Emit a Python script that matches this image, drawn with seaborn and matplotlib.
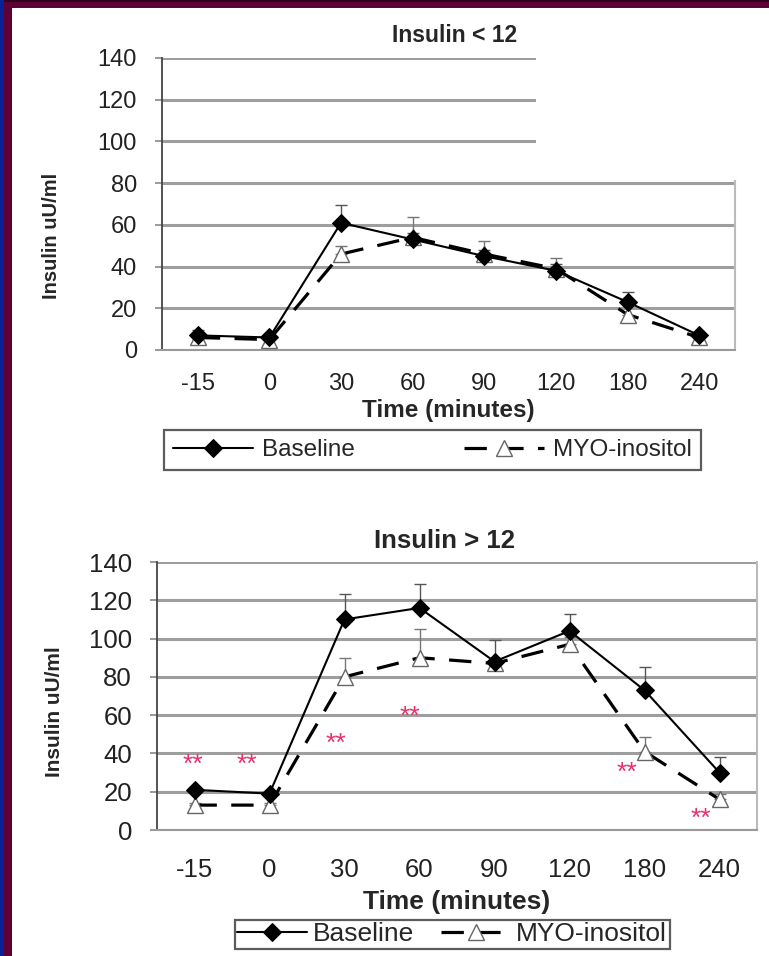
import numpy as np
import pandas as pd
import matplotlib
matplotlib.use("Agg")
import matplotlib.pyplot as plt
from matplotlib.patches import Rectangle
import seaborn as sns

# time points (categorical axis)
times = ["-15", "0", "30", "60", "90", "120", "180", "240"]

# Insulin < 12
low_baseline = [7, 6, 61, 53, 45, 38, 23, 7]
low_baseline_err = [2.5, 1, 8.5, 3, 3, 3, 5, 1.5]
low_myo = [6, 5, 46, 54, 46, 39, 17, 6]
low_myo_err = [1.5, 1.5, 4, 10, 6.5, 5, 6, 2]

# Insulin > 12
high_baseline = [21, 19, 110, 116, 88, 104, 73, 30]
high_baseline_err = [1, 1, 13.5, 12.5, 11, 9, 12, 8]
high_myo = [13, 13, 80, 90, 87, 97, 41, 16]
high_myo_err = [1, 1, 10, 15, 3, 4, 7.5, 3]

# significance marks ("**") in the > 12 panel
star_times = ["-15", "0", "30", "60", "180", "240"]
star_y = [34, 34, 45, 59, 30, 6]
star_dx = [-0.02, -0.3, -0.11, -0.13, -0.23, -0.25]

sns.set_style("white")
plt.rcParams["font.family"] = ["Liberation Sans", "DejaVu Sans"]

W, H = 769, 956
fig = plt.figure(figsize=(W / 100, H / 100), dpi=100)


def frac(x0, y0, x1, y1):
    return [x0 / W, 1 - y1 / H, (x1 - x0) / W, (y1 - y0) / H]


def draw_panel(ax, base, base_err, myo, myo_err, fs):
    pos = np.arange(len(times))
    df = pd.DataFrame({"pos": np.concatenate([pos, pos]),
                       "value": base + myo,
                       "group": ["Baseline"] * len(times) + ["MYO-inositol"] * len(times)})
    for y in range(0, 141, 20):
        ax.axhline(y, color="#9e9e9e", lw=2.2, zorder=0)
    ax.errorbar(pos, base, yerr=[np.zeros(len(times)), base_err], fmt="none",
                ecolor="#555555", elinewidth=1.0, capsize=4, zorder=2)
    ax.errorbar(pos, myo, yerr=[np.zeros(len(times)), myo_err], fmt="none",
                ecolor="#777777", elinewidth=1.0, capsize=4, zorder=2)
    sns.lineplot(data=df[df.group == "Baseline"], x="pos", y="value", ax=ax,
                 color="black", lw=1.5, marker="D", markersize=9,
                 markerfacecolor="black", markeredgecolor="black",
                 label="Baseline", zorder=4)
    sns.lineplot(data=df[df.group == "MYO-inositol"], x="pos", y="value", ax=ax,
                 color="black", lw=2.3, dashes=(7, 4.5), marker="^", markersize=12,
                 markerfacecolor="white", markeredgecolor="#666666",
                 markeredgewidth=1.0, label="MYO-inositol", zorder=3)
    ax.set_xlim(-0.5, len(times) - 0.5)
    ax.set_ylim(0, 140)
    ax.set_yticks(range(0, 141, 20))
    ax.set_xticks(pos)
    ax.set_xticklabels(times)
    ax.set_xticks(np.arange(-0.5, len(times), 1), minor=True)
    ax.tick_params(axis="x", which="minor", length=5, width=1, color="#999999", direction="out")
    ax.tick_params(axis="y", length=5, width=1.2, color="#888888", labelsize=fs,
                   colors="#222222", pad=13, left=True)
    ax.spines["top"].set_visible(False)
    ax.spines["left"].set_color("#444444")
    ax.spines["left"].set_linewidth(1.3)
    ax.spines["bottom"].set_color("#999999")
    ax.spines["bottom"].set_linewidth(1.5)
    ax.spines["right"].set_color("#bbbbbb")
    ax.spines["right"].set_linewidth(1.5)
    return pos


def style_legend(leg):
    leg.get_frame().set_edgecolor("#333333")
    leg.get_frame().set_linewidth(1.6)


# ---- top chart: Insulin < 12
ax1 = fig.add_axes(frac(162, 58, 735, 350))
draw_panel(ax1, low_baseline, low_baseline_err, low_myo, low_myo_err, 17)
ax1.tick_params(axis="x", which="major", length=0, labelsize=17, pad=16.5, colors="#222222")
ax1.set_title("Insulin < 12", fontsize=16.5, fontweight="bold", pad=11.5)
ax1.title.set_x(0.51)
ax1.set_xlabel("Time (minutes)", fontsize=17.5, fontweight="bold", labelpad=3)
ax1.set_ylabel("Insulin uU/ml", fontsize=14.5, fontweight="bold")
ax1.yaxis.set_label_coords(-0.176, 0.39)
leg1 = ax1.legend(loc="upper left", bbox_to_anchor=(0.0035, -0.284, 0.937, 0.01), mode="expand",
                  ncol=2, frameon=True, fancybox=False, fontsize=17.5, handlelength=3.3,
                  borderpad=0.38, handletextpad=0.35, borderaxespad=0)
style_legend(leg1)

# ---- bottom chart: Insulin > 12
ax2 = fig.add_axes(frac(157, 562, 757, 830))
draw_panel(ax2, high_baseline, high_baseline_err, high_myo, high_myo_err, 18.5)
ax2.tick_params(axis="x", which="major", length=0, labelsize=18.5, pad=20, colors="#222222")
ax2.set_title("Insulin > 12", fontsize=18.5, fontweight="bold", pad=10)
ax2.title.set_x(0.48)
ax2.set_xlabel("Time (minutes)", fontsize=19, fontweight="bold", labelpad=6)
ax2.set_ylabel("Insulin uU/ml", fontsize=15, fontweight="bold")
ax2.yaxis.set_label_coords(-0.155, 0.44)
leg2 = ax2.legend(loc="upper center", bbox_to_anchor=(0.492, -0.335), ncol=2,
                  frameon=True, fancybox=False, fontsize=19, handlelength=2.65,
                  borderpad=0.1, handletextpad=0.22, columnspacing=1.0, borderaxespad=0)
style_legend(leg2)
for t, y, dx in zip(star_times, star_y, star_dx):
    ax2.text(times.index(t) + dx, y, "**", color="#e8306a", fontsize=19,
             ha="center", va="center", zorder=5)

# white patch hiding the upper right of the first chart (as in the scan)
fig.patches.append(Rectangle((536 / W, 1 - 180 / H), 225 / W, 140 / H,
                             transform=fig.transFigure, facecolor="white",
                             edgecolor="none", zorder=10))

# slide frame
fig.patches.append(Rectangle((0, 1 - 8 / H), 1, 8 / H, transform=fig.transFigure,
                             facecolor="#5e0035", edgecolor="none", zorder=11))
fig.patches.append(Rectangle((0, 1 - 2 / H), 1, 2 / H, transform=fig.transFigure,
                             facecolor="#2e001a", edgecolor="none", zorder=12))
fig.patches.append(Rectangle((0, 0), 12 / W, 1, transform=fig.transFigure,
                             facecolor="#5e0035", edgecolor="none", zorder=11))
fig.patches.append(Rectangle((0, 0), 4 / W, 1, transform=fig.transFigure,
                             facecolor="#0a2296", edgecolor="none", zorder=12))

fig.savefig("out.png", dpi=100)
